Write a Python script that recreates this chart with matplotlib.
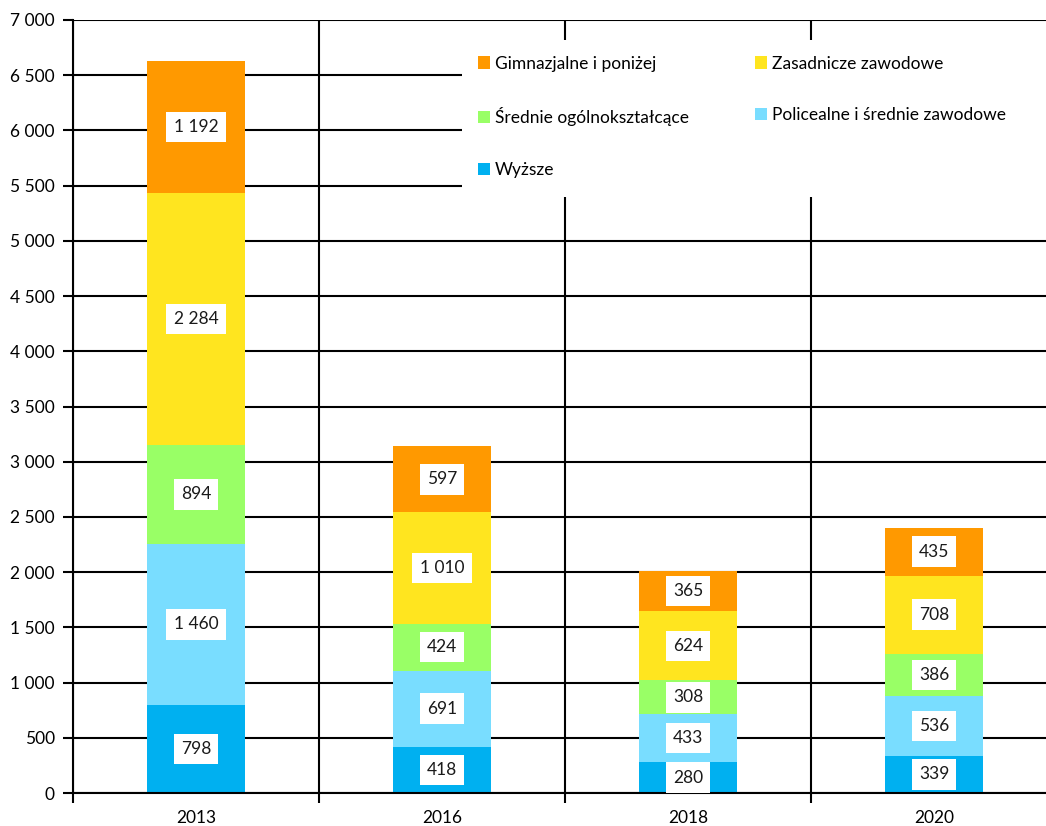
import matplotlib

matplotlib.use("Agg")
import matplotlib.pyplot as plt
from matplotlib.patches import Rectangle
from matplotlib.ticker import FuncFormatter, FixedLocator
import numpy as np

plt.rcParams["font.family"] = ["Lato", "DejaVu Sans"]

years = ["2013", "2016", "2018", "2020"]
series_names = [
    "Wyższe",
    "Policealne i średnie zawodowe",
    "Średnie ogólnokształcące",
    "Zasadnicze zawodowe",
    "Gimnazjalne i poniżej",
]
wyzsze = [798, 418, 280, 339]
policealne = [1460, 691, 433, 536]
srednie = [894, 424, 308, 386]
zasadnicze = [2284, 1010, 624, 708]
gimnazjalne = [1192, 597, 365, 435]
colors = ["#00B0F0", "#79DDFF", "#99FF66", "#FFE51F", "#FF9900"]

values = [wyzsze, policealne, srednie, zasadnicze, gimnazjalne]


def fmt_thousands(v):
    return f"{int(round(v)):,}".replace(",", " ")


fig = plt.figure(figsize=(10.46, 8.26), dpi=100)
ax = fig.add_axes([73 / 1046, 1 - 793 / 826, 984 / 1046, 773 / 826])

x = np.arange(len(years))
bottom = np.zeros(len(years))
bars = {}
for name, vals, color in zip(series_names, values, colors):
    vals = np.array(vals, dtype=float)
    bars[name] = ax.bar(x, vals, width=0.4, bottom=bottom, color=color, zorder=2, label=name)
    for xi, b, v in zip(x, bottom, vals):
        ax.text(
            xi, b + v / 2, fmt_thousands(v),
            ha="center", va="center", fontsize=12.5, color="#1a1a1a", zorder=4,
            bbox=dict(boxstyle="square,pad=0.42", facecolor="white", edgecolor="none"),
        )
    bottom += vals

ax.set_xlim(-0.5, 3.5)
ax.set_ylim(0, 7000)
ax.set_yticks(np.arange(0, 7001, 500))
ax.yaxis.set_major_formatter(FuncFormatter(lambda v, _: fmt_thousands(v)))

ax.xaxis.set_major_locator(FixedLocator([-0.5, 0.5, 1.5, 2.5, 3.5]))
ax.xaxis.set_minor_locator(FixedLocator(x))
ax.set_xticklabels([])
ax.set_xticklabels(years, minor=True)
ax.tick_params(axis="x", which="major", length=7, width=1.5, color="black")
ax.tick_params(axis="x", which="minor", length=0, pad=12, labelsize=12.5)
ax.tick_params(axis="y", length=7, width=1.5, pad=6, labelsize=12.5)

ax.grid(True, axis="y", color="black", linewidth=1.5, zorder=0)
ax.grid(True, axis="x", which="major", color="black", linewidth=1.5, zorder=0)
ax.set_axisbelow(True)

for side in ["top", "right"]:
    ax.spines[side].set_visible(False)
ax.spines["left"].set_linewidth(1.5)
ax.spines["bottom"].set_linewidth(1.5)

# white legend area hides the grid right up to the edge of the picture
ax.add_patch(Rectangle(
    (462 / 1046, 1 - 197 / 826), (1046 - 462) / 1046, 155 / 826,
    transform=fig.transFigure, facecolor="white", edgecolor="none", zorder=3,
    clip_on=False,
))

# legend goes column by column, so this order gives the two-column layout
order = [
    "Gimnazjalne i poniżej",
    "Średnie ogólnokształcące",
    "Wyższe",
    "Zasadnicze zawodowe",
    "Policealne i średnie zawodowe",
]
leg = ax.legend(
    [bars[n] for n in order], order,
    ncol=2, loc="upper left",
    bbox_to_anchor=(462 / 1046, 1 - 40 / 826), bbox_transform=fig.transFigure,
    fontsize=12.5, frameon=True, fancybox=False, edgecolor="none", facecolor="white",
    framealpha=1, handlelength=0.7, handleheight=0.7, handletextpad=0.3,
    labelspacing=2.05, columnspacing=3.8, borderpad=0.9, borderaxespad=0,
)
leg.set_zorder(5)

fig.savefig("out.png", dpi=100)
